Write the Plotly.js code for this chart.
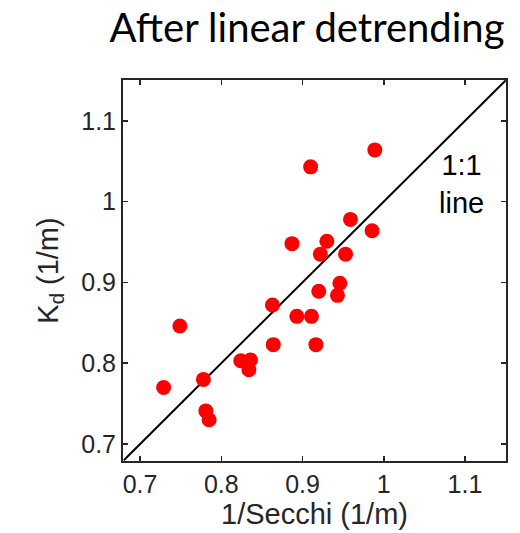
<!DOCTYPE html>
<html>
<head>
<meta charset="utf-8">
<script src="https://cdn.plot.ly/plotly-3.0.1.min.js"></script>
<style>html,body{margin:0;padding:0;background:#fff;}#chart{width:520px;height:533px;}</style>
</head>
<body>
<div id="chart"></div>
<script>
// 1/Secchi (1/m)
const secchiInv = [0.729, 0.749, 0.778, 0.781, 0.785, 0.824, 0.836, 0.834, 0.863, 0.864, 0.887, 0.893, 0.911, 0.910, 0.9165, 0.920, 0.922, 0.930, 0.943, 0.946, 0.953, 0.959, 0.9856, 0.989];
// Kd (1/m)
const kd = [0.770, 0.846, 0.780, 0.741, 0.730, 0.803, 0.804, 0.792, 0.872, 0.823, 0.948, 0.858, 0.858, 1.043, 0.823, 0.889, 0.935, 0.951, 0.884, 0.899, 0.935, 0.978, 0.964, 1.064];
// 1:1 reference line endpoints
const oneToOne = [0.68, 1.15];
const tickVals = [0.7, 0.8, 0.9, 1.0, 1.1];
const tickText = ["0.7", "0.8", "0.9", "1", "1.1"];

const axisCommon = {
  range: [0.679, 1.1505],
  tickvals: tickVals,
  ticktext: tickText,
  ticks: "inside",
  ticklen: 5,
  tickwidth: 1.5,
  tickcolor: "#262626",
  showline: true,
  linecolor: "#262626",
  linewidth: 2,
  mirror: "ticks",
  showgrid: false,
  zeroline: false,
  tickfont: {family: "Liberation Sans, Arial, sans-serif", size: 25, color: "#262626"}
};

const data = [
  {x: oneToOne, y: oneToOne, mode: "lines", line: {color: "#000", width: 2}, hoverinfo: "skip", showlegend: false},
  {x: secchiInv, y: kd, mode: "markers", marker: {color: "#ff0000", size: 15, line: {width: 0}}, showlegend: false}
];

const layout = {
  width: 520, height: 533,
  margin: {l: 123, r: 14, t: 80, b: 72},
  paper_bgcolor: "#fff", plot_bgcolor: "#fff",
  title: {text: "After linear detrending", font: {family: "Lato, Open Sans, sans-serif", size: 40, color: "#000"},
          xref: "container", x: 307/520, xanchor: "center", yref: "container", y: 1 - 28/533, yanchor: "middle"},
  xaxis: Object.assign({}, axisCommon, {
    title: {text: "1/Secchi (1/m)", font: {family: "Liberation Sans, Arial, sans-serif", size: 29, color: "#262626"}, standoff: 6}
  }),
  yaxis: Object.assign({}, axisCommon, {
    title: {text: "K<sub>d</sub> (1/m)", font: {family: "Liberation Sans, Arial, sans-serif", size: 29, color: "#262626"}, standoff: 14}
  }),
  annotations: [
    {x: 1.096, y: 1.022, xref: "x", yref: "y", text: "1:1<br>line", showarrow: false,
     font: {family: "Liberation Sans, Arial, sans-serif", size: 29, color: "#000"}, align: "center"}
  ]
};

Plotly.newPlot("chart", data, layout, {staticPlot: true, displayModeBar: false});
</script>
</body>
</html>
